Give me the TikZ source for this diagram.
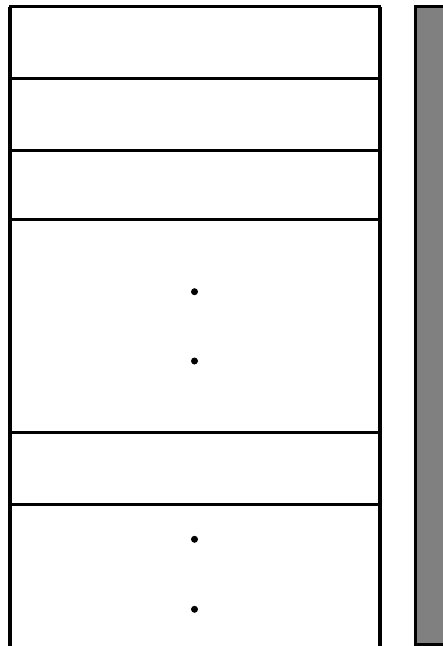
\documentclass[tikz,border=0pt]{standalone}
\usetikzlibrary{positioning}

\begin{document}
\begin{tikzpicture}[x=1pt, y=-1pt,
    cell/.style={draw, line width=3pt, minimum width=369.7pt, inner sep=0pt, outer sep=0pt},
    dot/.style={circle, fill=black, inner sep=0pt, minimum size=7pt},
    frame/.style={draw, line width=4.2pt},
    stackbar/.style={draw, line width=3pt, fill=black!50, inner sep=0pt, outer sep=0pt}
  ]
    \useasboundingbox (0,0) rectangle (443,646);
    \clip (0,0) rectangle (443,646);

    \node[cell, minimum height=71.5pt, anchor=north west] (row1) at (10,6.5) {};
    \node[cell, minimum height=72.7pt, below=0pt of row1] (row2) {};
    \node[cell, minimum height=69pt,   below=0pt of row2] (row3) {};
    \node[cell, minimum height=213pt,  below=0pt of row3] (row4) {};
    \node[cell, minimum height=72pt,   below=0pt of row4] (row5) {};
    \node[cell, minimum height=160pt,  below=0pt of row5] (row6) {};

    \node[dot] (dot1) at (194.5,291.7) {};
    \node[dot] (dot2) at (194.5,361.0) {};
    \node[dot] (dot3) at (194.5,539.3) {};
    \node[dot] (dot4) at (194.5,609.3) {};

    \draw[frame] (row6.south west) -- (row1.north west);
    \draw[frame] (row6.south east) -- (row1.north east);

    \node[stackbar, anchor=north west, minimum width=40pt, minimum height=638pt] (stack) at (415.5,6.5) {};
\end{tikzpicture}
\end{document}
